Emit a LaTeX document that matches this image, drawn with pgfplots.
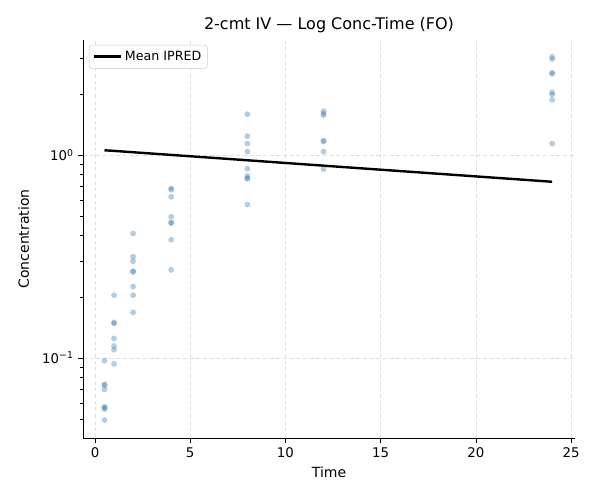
\documentclass[border=0pt]{standalone}
\usepackage{pgfplots}
\pgfplotsset{compat=1.18}
\usepackage{fontspec}
\setmainfont{DejaVu Sans}
\definecolor{steel}{RGB}{70,130,180}
\definecolor{gridc}{RGB}{222,222,222}
\definecolor{legc}{RGB}{204,204,204}
\begin{document}
\begin{tikzpicture}
\useasboundingbox (-62.25pt,-46.5pt) rectangle (387.75pt,328.5pt);
\begin{axis}[
  at={(0,0)}, anchor=south west,
  scale only axis, width=369pt, height=298.5pt,
  ymode=log,
  xmin=-0.63, xmax=25.2,
  ymin=0.0404, ymax=3.69,
  xtick={0,5,10,15,20,25},
  ytick={0.1,1},
  minor ytick={0.05,0.06,0.07,0.08,0.09,0.2,0.3,0.4,0.5,0.6,0.7,0.8,0.9,2,3},
  yticklabels={10\textsuperscript{−1},10\textsuperscript{0}},
  /pgf/number format/assume math mode=true,
  tick label style={font=\fontsize{10}{12}\selectfont, text=black},
  axis x line*=bottom, axis y line*=left,
  axis line style={black, line width=0.6pt, -},
  tick align=outside,
  major tick length=3.5pt, minor tick length=2pt,
  every tick/.style={black, line width=0.6pt},
  grid=major,
  major grid style={gridc, dash pattern=on 3pt off 2pt, line width=0.6pt},
  minor grid style={draw=none},
  xlabel={Time}, ylabel={Concentration},
  label style={font=\fontsize{10.5}{13}\selectfont},
  ylabel style={yshift=3pt},
  title={2-cmt IV — Log Conc-Time (FO)},
  title style={font=\fontsize{12}{14}\selectfont, yshift=-4pt},
  legend style={font=\fontsize{9.5}{11}\selectfont, draw=legc, rounded corners=2pt, inner sep=2.5pt, at={(0.012,0.988)}, anchor=north west},
  legend image code/.code={\draw[#1, line width=1.8pt] (0cm,0cm) -- (0.72cm,0cm);},
  legend cell align=left,
  clip=false,
]
\addplot[only marks, mark=*, mark size=2.2pt, mark options={draw opacity=0, fill=steel, fill opacity=0.4}, forget plot] coordinates {
(0.5,0.097) (0.5,0.0742) (0.5,0.0735) (0.5,0.0701) (0.5,0.0575) (0.5,0.057) (0.5,0.0561) (0.5,0.0495)
(1,0.204) (1,0.150) (1,0.148) (1,0.125) (1,0.1146) (1,0.110) (1,0.0937)
(2,0.411) (2,0.316) (2,0.300) (2,0.268) (2,0.266) (2,0.225) (2,0.204) (2,0.168)
(4,0.685) (4,0.675) (4,0.623) (4,0.497) (4,0.466) (4,0.462) (4,0.383) (4,0.272)
(8,1.59) (8,1.24) (8,1.14) (8,1.04) (8,0.857) (8,0.79) (8,0.77) (8,0.765) (8,0.571)
(12,1.647) (12,1.60) (12,1.574) (12,1.18) (12,1.165) (12,1.04) (12,0.853)
(24,3.05) (24,2.97) (24,2.54) (24,2.52) (24,2.04) (24,1.99) (24,1.87) (24,1.14)
};
\addplot[black, line width=1.8pt] coordinates {
(0.5,1.056) (1,1.049) (2,1.033) (4,1.002) (8,0.943) (12,0.887) (24,0.739)
};
\addlegendentry{Mean IPRED}
\end{axis}
\end{tikzpicture}
\end{document}
